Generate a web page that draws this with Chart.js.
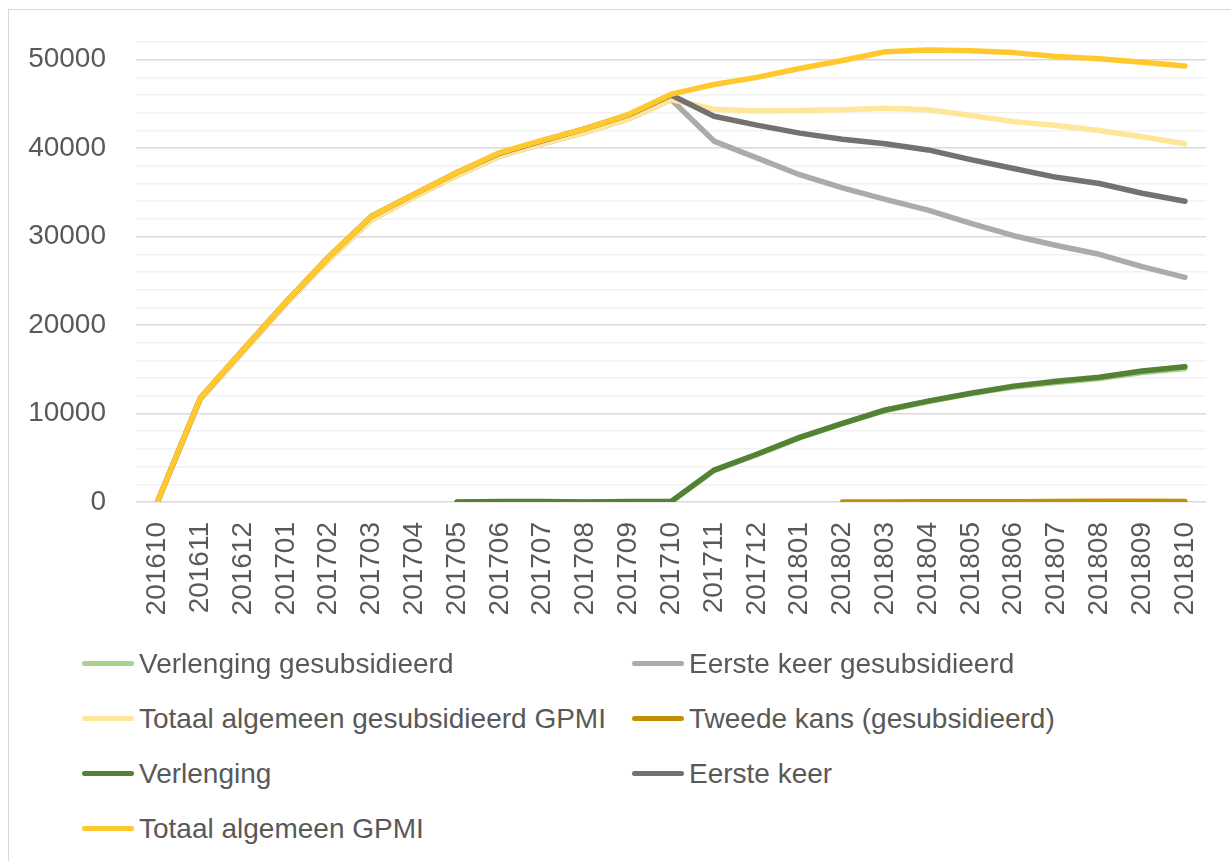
<!DOCTYPE html>
<html>
<head>
  <meta charset="UTF-8">
  <title>GPMI per maand</title>
  <script src="https://cdn.jsdelivr.net/npm/chart.js"></script>
  <style>
    body {
      margin: 0;
      background: #fff;
      font-family: 'Liberation Sans', Arial, sans-serif;
      overflow: hidden;
    }

    #frame {
      position: absolute;
      left: 8px;
      top: 9px;
      width: 1260px;
      height: 900px;
      border: 1px solid #d9d9d9;
    }

    #chart-box {
      position: absolute;
      left: 8px;
      top: 9px;
      width: 1223px;
      height: 631px;
    }

    #legend {
      position: absolute;
      left: 0;
      top: 636px;
    }

    .legend-item {
      position: absolute;
      height: 55px;
      display: flex;
      align-items: center;
      white-space: nowrap;
      font-size: 28px;
      color: #595959;
    }

    .legend-swatch {
      width: 52px;
      height: 5px;
      border-radius: 3px;
      margin-right: 5px;
    }
  </style>
</head>
<body>
  <div id="frame"></div>
  <div id="chart-box"><canvas id="chart" width="1223" height="631"></canvas></div>
  <div id="legend"></div>

  <script>
    const months = [
      '201610', '201611', '201612', '201701', '201702', '201703', '201704', '201705',
      '201706', '201707', '201708', '201709', '201710', '201711', '201712', '201801',
      '201802', '201803', '201804', '201805', '201806', '201807', '201808', '201809', '201810'
    ];

    const verlengingGesubsidieerd = [
      null, null, null, null, null, null, null, 0,
      20, 30, 0, 30, 40, 3550, 5350, 7250,
      8850, 10350, 11350, 12250, 13000, 13500, 13950, 14650, 15100
    ];
    const eersteKeerGesubsidieerd = [
      0, 11600, 17000, 22400, 27400, 31900, 34500, 36900,
      39100, 40500, 41800, 43300, 45500, 40800, 38900, 37000,
      35500, 34200, 33000, 31500, 30100, 29000, 28000, 26600, 25400
    ];
    const totaalGesubsidieerd = [
      0, 11600, 17000, 22400, 27400, 31900, 34500, 36900,
      39100, 40500, 41800, 43300, 45500, 44400, 44200, 44250,
      44350, 44500, 44350, 43700, 43000, 42550, 42000, 41300, 40500
    ];
    const tweedeKansGesubsidieerd = [
      null, null, null, null, null, null, null, null,
      null, null, null, null, null, null, null, null,
      0, 10, 20, 30, 40, 50, 80, 80, 60
    ];
    const verlenging = [
      null, null, null, null, null, null, null, 0,
      50, 50, 0, 50, 50, 3600, 5400, 7300,
      8900, 10400, 11400, 12300, 13100, 13650, 14100, 14800, 15300
    ];
    const eersteKeer = [
      0, 11750, 17200, 22600, 27700, 32300, 34800, 37250,
      39450, 40850, 42200, 43750, 46000, 43600, 42600, 41700,
      41000, 40500, 39800, 38700, 37700, 36700, 36000, 34900, 34000
    ];
    const totaalAlgemeen = [
      0, 11750, 17200, 22600, 27700, 32300, 34800, 37250,
      39500, 40900, 42200, 43800, 46100, 47200, 48000, 49000,
      49900, 50900, 51100, 51000, 50800, 50350, 50100, 49700, 49300
    ];

    const series = [
      { label: 'Verlenging gesubsidieerd', data: verlengingGesubsidieerd, color: '#a9d18e' },
      { label: 'Eerste keer gesubsidieerd', data: eersteKeerGesubsidieerd, color: '#aeaaaa' },
      { label: 'Totaal algemeen gesubsidieerd GPMI', data: totaalGesubsidieerd, color: '#ffe699' },
      { label: 'Tweede kans (gesubsidieerd)', data: tweedeKansGesubsidieerd, color: '#bf9000' },
      { label: 'Verlenging', data: verlenging, color: '#548235' },
      { label: 'Eerste keer', data: eersteKeer, color: '#767171' },
      { label: 'Totaal algemeen GPMI', data: totaalAlgemeen, color: '#ffc92e' }
    ];

    const textColor = '#595959';
    const fontFamily = "'Liberation Sans', Arial, sans-serif";

    // last series on top, like Excel
    const datasets = series.map((s, i) => ({
      label: s.label,
      data: s.data,
      borderColor: s.color,
      backgroundColor: s.color,
      borderWidth: 5.5,
      borderCapStyle: 'round',
      borderJoinStyle: 'round',
      pointRadius: 0,
      tension: 0,
      order: series.length - i
    }));

    new Chart(document.getElementById('chart'), {
      type: 'line',
      data: { labels: months, datasets: datasets },
      options: {
        responsive: false,
        animation: false,
        layout: { padding: { top: 33, right: 23, bottom: 0, left: 0 } },
        plugins: {
          legend: { display: false },
          tooltip: { enabled: false }
        },
        scales: {
          x: {
            offset: true,
            grid: { display: false },
            border: { display: false },
            ticks: {
              autoSkip: false,
              minRotation: 90,
              maxRotation: 90,
              padding: 12,
              color: textColor,
              font: { family: fontFamily, size: 28 }
            },
            afterFit: (scale) => { scale.height = 138; }
          },
          y: {
            min: 0,
            max: 52000,
            border: { display: false },
            grid: {
              drawTicks: false,
              lineWidth: 1.5,
              color: (ctx) => ctx.tick && ctx.tick.value % 10000 === 0 ? '#d9d9d9' : '#f2f2f2'
            },
            ticks: {
              stepSize: 2000,
              maxTicksLimit: 40,
              autoSkip: false,
              padding: 30,
              color: textColor,
              font: { family: fontFamily, size: 28 },
              callback: (v) => v % 10000 === 0 ? v : ''
            },
            afterFit: (scale) => {
              scale.width = 128;
              scale.paddingTop = 0;
              scale.paddingBottom = 0;
            }
          }
        }
      }
    });

    // two-column legend, filled row by row
    const legend = document.getElementById('legend');
    const colX = [82, 632];
    series.forEach((s, i) => {
      const item = document.createElement('div');
      item.className = 'legend-item';
      item.style.left = colX[i % 2] + 'px';
      item.style.top = (Math.floor(i / 2) * 55) + 'px';
      item.innerHTML = `<div class="legend-swatch" style="background:${s.color}"></div><span>${s.label}</span>`;
      legend.appendChild(item);
    });
  </script>
</body>
</html>
